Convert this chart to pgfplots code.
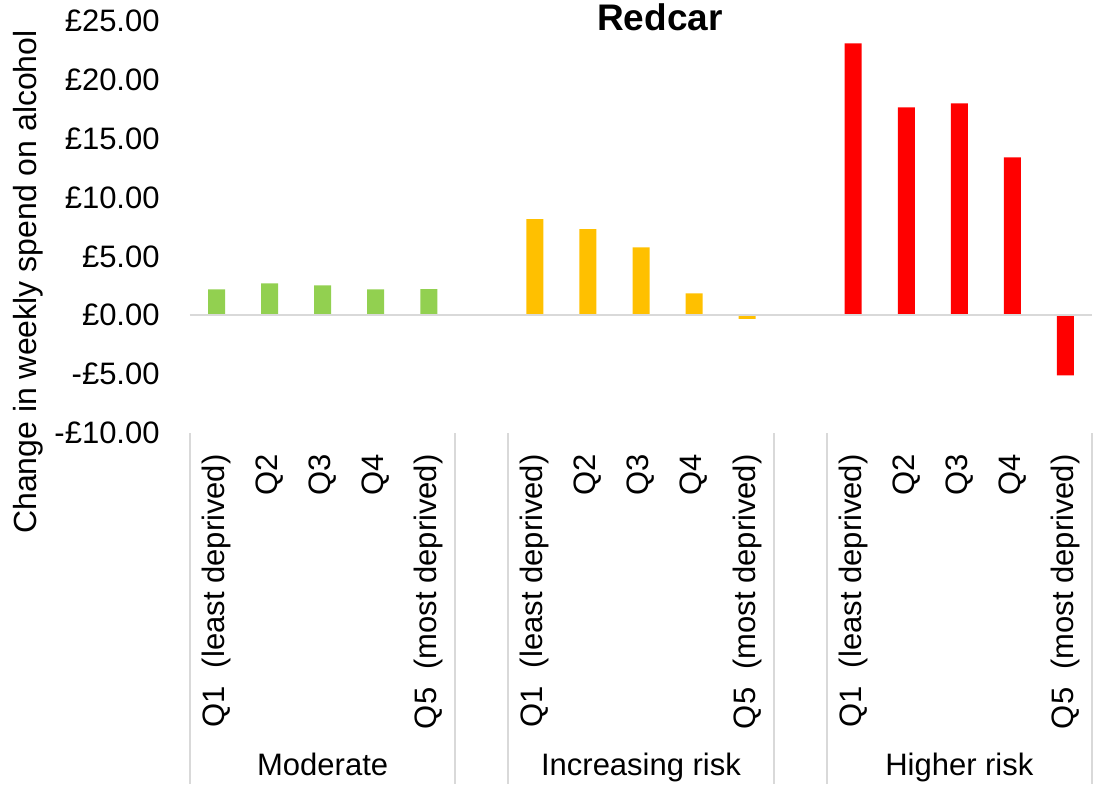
\documentclass[border=0pt]{standalone}
\usepackage{pgfplots}
\pgfplotsset{compat=1.18}
\usepackage{fontspec}
\setmainfont{Liberation Sans}
\definecolor{modgreen}{HTML}{92D050}
\definecolor{incyellow}{HTML}{FFC000}
\definecolor{highred}{HTML}{FF0000}
\definecolor{gridgray}{HTML}{D9D9D9}
\newcommand{\gap}{\hspace*{0.3em} }
\begin{document}
\begin{tikzpicture}
\path[use as bounding box] (-95pt,-175.5pt) rectangle (454.5pt,216.5pt);
\begin{axis}[
  at={(0,0)}, anchor=south west,
  scale only axis, width=451pt, height=206pt,
  xmin=-0.5, xmax=16.5, ymin=-10, ymax=25,
  axis lines=left,
  axis line style={draw=none},
  major tick length=0pt,
  ytick={-10,-5,0,5,10,15,20,25},
  yticklabels={-£10.00,-£5.00,£0.00,£5.00,£10.00,£15.00,£20.00,£25.00},
  xtick={0,1,2,3,4,6,7,8,9,10,12,13,14,15,16},
  xticklabels={Q1\gap(least deprived),Q2,Q3,Q4,Q5\gap(most deprived),
               Q1\gap(least deprived),Q2,Q3,Q4,Q5\gap(most deprived),
               Q1\gap(least deprived),Q2,Q3,Q4,Q5\gap(most deprived)},
  tick label style={font=\fontsize{15.5}{18}\selectfont},
  y tick label style={anchor=east, inner sep=0pt, xshift=-15pt},
  x tick label style={rotate=90, anchor=east, inner sep=0pt},
  xticklabel shift=10.5pt,
  ybar, bar width=8.5pt, bar shift=0pt,
  clip=false,
]
\addplot[fill=modgreen, draw=none] coordinates {(0,2.21) (1,2.72) (2,2.55) (3,2.21) (4,2.23)};
\addplot[fill=incyellow, draw=none] coordinates {(6,8.16) (7,7.31) (8,5.78) (9,1.87) (10,-0.3)};
\addplot[fill=highred, draw=none] coordinates {(12,23.11) (13,17.67) (14,18.01) (15,13.42) (16,-5.10)};
\draw[gridgray, line width=1pt] (axis cs:-0.5,0) -- (axis cs:16.5,0);
\foreach \xx in {-0.5,4.5,5.5,10.5,11.5,16.5} {
  \edef\tmp{\noexpand\draw[gridgray, line width=1pt] (axis cs:\xx,-10) -- ++(0pt,-175.5pt);}
  \tmp
}
\node[anchor=base, font=\fontsize{15.5}{18}\selectfont] at ([yshift=-171pt]axis cs:2,-10) {Moderate};
\node[anchor=base, font=\fontsize{15.5}{18}\selectfont] at ([yshift=-171pt]axis cs:8,-10) {Increasing risk};
\node[anchor=base, font=\fontsize{15.5}{18}\selectfont] at ([yshift=-171pt]axis cs:14,-10) {Higher risk};
\end{axis}
\node[anchor=base, font=\bfseries\fontsize{18.5}{22}\selectfont] at (235pt,201.5pt) {Redcar};
\node[rotate=90, font=\fontsize{16}{19}\selectfont] at (-81pt,75.5pt) {Change in weekly spend on alcohol};
\end{tikzpicture}
\end{document}
